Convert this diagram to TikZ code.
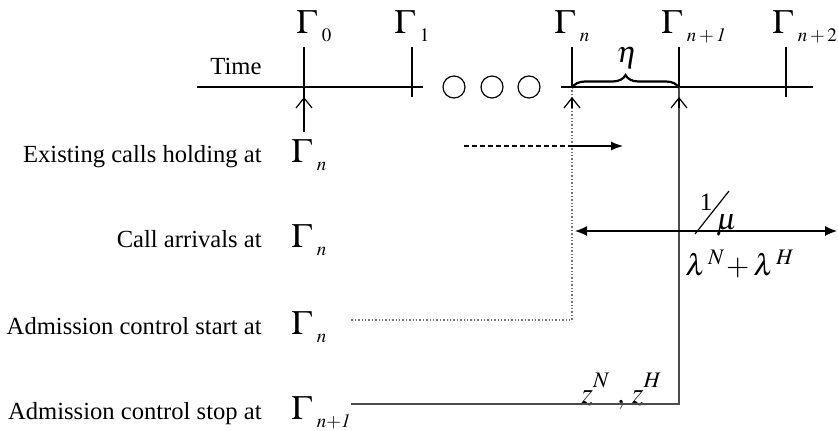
\documentclass[tikz,border=0pt]{standalone}
\usepackage{mathptmx}
\usepackage[no-math]{fontspec}
\setmainfont{Liberation Serif}
\usetikzlibrary{arrows.meta,decorations.pathreplacing}

\newcommand{\gam}[1]{{\fontsize{17}{18}\selectfont$\Gamma$}\kern2.5pt\raisebox{-4pt}{\fontsize{9.5}{10}\selectfont$#1$}}

\begin{document}
\begin{tikzpicture}[
  x=0.5pt, y=-0.5pt,
  >=Latex,
  every node/.style={font=\fontsize{12.3}{14}\selectfont, inner sep=0pt},
  axis/.style={line width=0.6pt},
  barb/.style={-{Straight Barb[length=5pt,width=8pt]}, line width=0.6pt},
  startline/.style={densely dotted, black!55, line width=0.7pt},
  stopline/.style={black!70, line width=0.7pt},
  ellipsis/.style={draw, circle, minimum size=11pt, line width=0.6pt},
  rowlabel/.style={anchor=base east},
  rowgamma/.style={anchor=base west},
  mathlabel/.style={font=\fontsize{15}{17}\selectfont},
  brace/.style={decorate, decoration={brace, amplitude=6.5pt}, line width=1.1pt},
  arrow/.style={-{Latex[length=6pt,width=4.5pt]}, line width=0.6pt},
  span/.style={{Latex[length=6pt,width=5pt]}-{Latex[length=6pt,width=5pt]}, line width=0.6pt}
]
  \useasboundingbox (0,0) rectangle (838,430);

  \coordinate (axisstart) at (197,87);
  \coordinate (axisbreak) at (423,87);
  \coordinate (axisresume) at (561,87);
  \coordinate (axisend) at (813,87);

  \coordinate (zerotop) at (304,47);
  \coordinate (zeroaxis) at (304,87);
  \coordinate (zerotip) at (304,97);
  \coordinate (zerofoot) at (304,132);
  \coordinate (onetop) at (412,47);
  \coordinate (onefoot) at (412,97);
  \coordinate (ntop) at (572,47);
  \coordinate (naxis) at (572,87);
  \coordinate (ntip) at (572,97);
  \coordinate (nbarb) at (572,108);
  \coordinate (ncorner) at (572,320);
  \coordinate (startend) at (351,320);
  \coordinate (nonetop) at (679,47);
  \coordinate (noneaxis) at (679,87);
  \coordinate (nonetip) at (679,97);
  \coordinate (nonebarb) at (679,108);
  \coordinate (nonecorner) at (679,404);
  \coordinate (stopend) at (351,404);
  \coordinate (ntwotop) at (786,47);
  \coordinate (ntwofoot) at (786,97);

  \node[rowgamma] (gammazero) at (296,33) {\gam{0}};
  \node[rowgamma] (gammaone)  at (394,33) {\gam{1}};
  \node[rowgamma] (gamman)    at (554,33) {\gam{n}};
  \node[rowgamma] (gammanone) at (661,33) {\gam{n+\mathit{1}}};
  \node[rowgamma] (gammantwo) at (772,33) {\gam{n+2}};
  \node (time) at (236,66) {Time};

  \node[ellipsis] (dotone)   at (454,87) {};
  \node[ellipsis] (dottwo)   at (492,87) {};
  \node[ellipsis] (dotthree) at (529,87) {};

  \node[mathlabel] (eta) at (627,58) {$\eta$};

  \node[rowlabel] (holding)  at (262,162) {Existing calls holding at};
  \node[rowlabel] (arrivals) at (262,247) {Call arrivals at};
  \node[rowlabel] (start)    at (262,334) {Admission control start at};
  \node[rowlabel] (stop)     at (262,419) {Admission control stop at};
  \node[rowgamma] (holdinggamma)  at (291,162) {\gam{n}};
  \node[rowgamma] (arrivalsgamma) at (291,247) {\gam{n}};
  \node[rowgamma] (startgamma)    at (291,334) {\gam{n}};
  \node[rowgamma] (stopgamma)     at (291,419) {\gam{n{+}\mathit{1}}};

  \coordinate (holdstart) at (464,146);
  \coordinate (holdmid) at (572,146);
  \coordinate (holdend) at (623,146);
  \coordinate (spanstart) at (575,231);
  \coordinate (spanend) at (837,231);
  \coordinate (slashlow) at (695,234);
  \coordinate (slashhigh) at (729,191);

  \node[anchor=base, font=\fontsize{12.5}{14}\selectfont] (rateone) at (706,210) {1};
  \node[anchor=base west, mathlabel] (ratemu) at (716,229) {$\mu$};
  \node[anchor=base west, mathlabel] (rates) at (685,275) {$\lambda^{\,N}\!+\lambda^{\,H}$};
  \node[anchor=base west, font=\fontsize{15}{17}\selectfont] (thresholds) at (581,403)
    {$z^{\raisebox{2.5pt}{$\scriptstyle N$}}\;,\,z^{\raisebox{2.5pt}{$\scriptstyle H$}}$};

  \draw[axis] (axisstart) -- (axisbreak);
  \draw[axis] (axisresume) -- (axisend);

  \draw[axis] (zerotop) -- (zerofoot);
  \draw[barb] (zerofoot) -- (zerotip);
  \draw[axis] (onetop) -- (onefoot);
  \draw[axis] (ntop) -- (naxis);
  \draw[startline] (naxis) -- (ncorner) -- (startend);
  \draw[barb] (nbarb) -- (ntip);
  \draw[axis] (nonetop) -- (noneaxis);
  \draw[stopline] (noneaxis) -- (nonecorner) -- (stopend);
  \draw[barb] (nonebarb) -- (nonetip);
  \draw[axis] (ntwotop) -- (ntwofoot);

  \draw[brace] ([yshift=-0.5pt]naxis) -- ([yshift=-0.5pt]noneaxis);

  \draw[line width=0.6pt, dash pattern=on 2.5pt off 1.5pt] (holdstart) -- (holdmid);
  \draw[arrow] (holdmid) -- (holdend);

  \draw[span] (spanstart) -- (spanend);
  \draw[line width=0.6pt] (slashlow) -- (slashhigh);
\end{tikzpicture}
\end{document}
